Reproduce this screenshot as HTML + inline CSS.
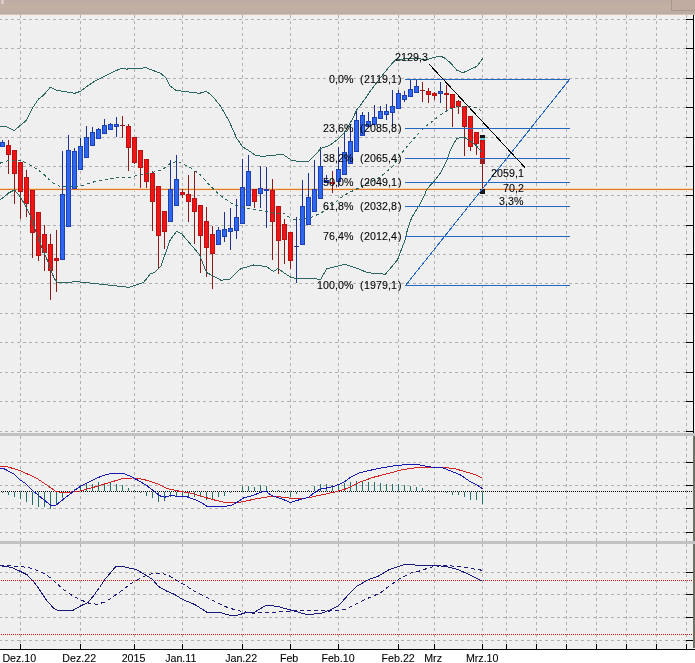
<!DOCTYPE html>
<html><head><meta charset="utf-8"><title>Chart</title>
<style>html,body{margin:0;padding:0;background:#efefef;overflow:hidden;}svg{display:block;}text{font-family:"Liberation Sans",Arial,sans-serif;font-size:10.67px;fill:#000;stroke:#000;stroke-width:0.08px;}text.g{font-size:10.67px;}</style></head><body>
<svg width="695" height="663" viewBox="0 0 695 663">
<defs><linearGradient id="tb" x1="0" y1="0" x2="0" y2="1"><stop offset="0" stop-color="#bcaaa3"/><stop offset="0.5" stop-color="#c4b0a4"/><stop offset="1" stop-color="#bcaba3"/></linearGradient></defs>
<rect x="0" y="0" width="695" height="663" fill="#efefef"/>
<g shape-rendering="crispEdges">
<rect x="0" y="0" width="695" height="14" fill="url(#tb)"/>
<rect x="0" y="14" width="695" height="1" fill="#d2c2bb"/>
<rect x="0" y="15" width="695" height="1" fill="#f6eeec"/>
<rect x="1" y="0" width="3" height="4" fill="#dccac2"/>
<rect x="671.5" y="-1" width="25" height="11.5" fill="#c0aca1" stroke="#a8968c" stroke-width="1"/>
</g>
<g stroke="#b0b0b0" stroke-width="1" shape-rendering="crispEdges" fill="none">
<line x1="0" y1="19.5" x2="693" y2="19.5" stroke-dasharray="3 3" stroke-dashoffset="1"/>
<line x1="0" y1="48.5" x2="693" y2="48.5" stroke-dasharray="3 3" stroke-dashoffset="1"/>
<line x1="0" y1="78.5" x2="693" y2="78.5" stroke-dasharray="3 3" stroke-dashoffset="1"/>
<line x1="0" y1="107.5" x2="693" y2="107.5" stroke-dasharray="3 3" stroke-dashoffset="1"/>
<line x1="0" y1="137.5" x2="693" y2="137.5" stroke-dasharray="3 3" stroke-dashoffset="1"/>
<line x1="0" y1="166.5" x2="693" y2="166.5" stroke-dasharray="3 3" stroke-dashoffset="1"/>
<line x1="0" y1="195.5" x2="693" y2="195.5" stroke-dasharray="3 3" stroke-dashoffset="1"/>
<line x1="0" y1="225.5" x2="693" y2="225.5" stroke-dasharray="3 3" stroke-dashoffset="1"/>
<line x1="0" y1="254.5" x2="693" y2="254.5" stroke-dasharray="3 3" stroke-dashoffset="1"/>
<line x1="0" y1="283.5" x2="693" y2="283.5" stroke-dasharray="3 3" stroke-dashoffset="1"/>
<line x1="0" y1="313.5" x2="693" y2="313.5" stroke-dasharray="3 3" stroke-dashoffset="1"/>
<line x1="0" y1="342.5" x2="693" y2="342.5" stroke-dasharray="3 3" stroke-dashoffset="1"/>
<line x1="0" y1="372.5" x2="693" y2="372.5" stroke-dasharray="3 3" stroke-dashoffset="1"/>
<line x1="0" y1="401.5" x2="693" y2="401.5" stroke-dasharray="3 3" stroke-dashoffset="1"/>
<line x1="0" y1="431.5" x2="693" y2="431.5" stroke-dasharray="3 3" stroke-dashoffset="1"/>
<line x1="0" y1="462.5" x2="693" y2="462.5" stroke-dasharray="3 3" stroke-dashoffset="1"/>
<line x1="0" y1="485.5" x2="693" y2="485.5" stroke-dasharray="3 3" stroke-dashoffset="1"/>
<line x1="0" y1="508.5" x2="693" y2="508.5" stroke-dasharray="3 3" stroke-dashoffset="1"/>
<line x1="0" y1="532.5" x2="693" y2="532.5" stroke-dasharray="3 3" stroke-dashoffset="1"/>
<line x1="0" y1="572.5" x2="693" y2="572.5" stroke-dasharray="3 3" stroke-dashoffset="1"/>
<line x1="0" y1="594.5" x2="693" y2="594.5" stroke-dasharray="3 3" stroke-dashoffset="1"/>
<line x1="0" y1="617.5" x2="693" y2="617.5" stroke-dasharray="3 3" stroke-dashoffset="1"/>
<line x1="0" y1="640.5" x2="693" y2="640.5" stroke-dasharray="3 3" stroke-dashoffset="1"/>
<line x1="20.5" y1="15" x2="20.5" y2="433" stroke-dasharray="3 3"/>
<line x1="20.5" y1="436" x2="20.5" y2="541" stroke-dasharray="3 3"/>
<line x1="20.5" y1="544" x2="20.5" y2="649" stroke-dasharray="3 3"/>
<line x1="80.5" y1="15" x2="80.5" y2="433" stroke-dasharray="3 3"/>
<line x1="80.5" y1="436" x2="80.5" y2="541" stroke-dasharray="3 3"/>
<line x1="80.5" y1="544" x2="80.5" y2="649" stroke-dasharray="3 3"/>
<line x1="134.5" y1="15" x2="134.5" y2="433" stroke-dasharray="3 3"/>
<line x1="134.5" y1="436" x2="134.5" y2="541" stroke-dasharray="3 3"/>
<line x1="134.5" y1="544" x2="134.5" y2="649" stroke-dasharray="3 3"/>
<line x1="182.5" y1="15" x2="182.5" y2="433" stroke-dasharray="3 3"/>
<line x1="182.5" y1="436" x2="182.5" y2="541" stroke-dasharray="3 3"/>
<line x1="182.5" y1="544" x2="182.5" y2="649" stroke-dasharray="3 3"/>
<line x1="242.5" y1="15" x2="242.5" y2="433" stroke-dasharray="3 3"/>
<line x1="242.5" y1="436" x2="242.5" y2="541" stroke-dasharray="3 3"/>
<line x1="242.5" y1="544" x2="242.5" y2="649" stroke-dasharray="3 3"/>
<line x1="290.5" y1="15" x2="290.5" y2="433" stroke-dasharray="3 3"/>
<line x1="290.5" y1="436" x2="290.5" y2="541" stroke-dasharray="3 3"/>
<line x1="290.5" y1="544" x2="290.5" y2="649" stroke-dasharray="3 3"/>
<line x1="338.5" y1="15" x2="338.5" y2="433" stroke-dasharray="3 3"/>
<line x1="338.5" y1="436" x2="338.5" y2="541" stroke-dasharray="3 3"/>
<line x1="338.5" y1="544" x2="338.5" y2="649" stroke-dasharray="3 3"/>
<line x1="398.5" y1="15" x2="398.5" y2="433" stroke-dasharray="3 3"/>
<line x1="398.5" y1="436" x2="398.5" y2="541" stroke-dasharray="3 3"/>
<line x1="398.5" y1="544" x2="398.5" y2="649" stroke-dasharray="3 3"/>
<line x1="434.5" y1="15" x2="434.5" y2="433" stroke-dasharray="3 3"/>
<line x1="434.5" y1="436" x2="434.5" y2="541" stroke-dasharray="3 3"/>
<line x1="434.5" y1="544" x2="434.5" y2="649" stroke-dasharray="3 3"/>
<line x1="482.5" y1="15" x2="482.5" y2="433" stroke-dasharray="3 3"/>
<line x1="482.5" y1="436" x2="482.5" y2="541" stroke-dasharray="3 3"/>
<line x1="482.5" y1="544" x2="482.5" y2="649" stroke-dasharray="3 3"/>
<line x1="506.5" y1="15" x2="506.5" y2="433" stroke-dasharray="3 3"/>
<line x1="506.5" y1="436" x2="506.5" y2="541" stroke-dasharray="3 3"/>
<line x1="506.5" y1="544" x2="506.5" y2="649" stroke-dasharray="3 3"/>
<line x1="536.5" y1="15" x2="536.5" y2="433" stroke-dasharray="3 3"/>
<line x1="536.5" y1="436" x2="536.5" y2="541" stroke-dasharray="3 3"/>
<line x1="536.5" y1="544" x2="536.5" y2="649" stroke-dasharray="3 3"/>
<line x1="566.5" y1="15" x2="566.5" y2="433" stroke-dasharray="3 3"/>
<line x1="566.5" y1="436" x2="566.5" y2="541" stroke-dasharray="3 3"/>
<line x1="566.5" y1="544" x2="566.5" y2="649" stroke-dasharray="3 3"/>
<line x1="596.5" y1="15" x2="596.5" y2="433" stroke-dasharray="3 3"/>
<line x1="596.5" y1="436" x2="596.5" y2="541" stroke-dasharray="3 3"/>
<line x1="596.5" y1="544" x2="596.5" y2="649" stroke-dasharray="3 3"/>
<line x1="626.5" y1="15" x2="626.5" y2="433" stroke-dasharray="3 3"/>
<line x1="626.5" y1="436" x2="626.5" y2="541" stroke-dasharray="3 3"/>
<line x1="626.5" y1="544" x2="626.5" y2="649" stroke-dasharray="3 3"/>
<line x1="656.5" y1="15" x2="656.5" y2="433" stroke-dasharray="3 3"/>
<line x1="656.5" y1="436" x2="656.5" y2="541" stroke-dasharray="3 3"/>
<line x1="656.5" y1="544" x2="656.5" y2="649" stroke-dasharray="3 3"/>
<line x1="686.5" y1="15" x2="686.5" y2="433" stroke-dasharray="3 3"/>
<line x1="686.5" y1="436" x2="686.5" y2="541" stroke-dasharray="3 3"/>
<line x1="686.5" y1="544" x2="686.5" y2="649" stroke-dasharray="3 3"/>
</g>
<g shape-rendering="crispEdges">
<rect x="0" y="433" width="695" height="3" fill="#c2c2c2"/>
<rect x="0" y="541" width="695" height="3" fill="#c2c2c2"/>
<rect x="0" y="650" width="695" height="13" fill="#ffffff"/>
<rect x="0" y="649" width="695" height="1" fill="#000"/>
<rect x="20" y="644" width="1" height="5" fill="#000"/>
<rect x="80" y="644" width="1" height="5" fill="#000"/>
<rect x="134" y="644" width="1" height="5" fill="#000"/>
<rect x="182" y="644" width="1" height="5" fill="#000"/>
<rect x="242" y="644" width="1" height="5" fill="#000"/>
<rect x="290" y="644" width="1" height="5" fill="#000"/>
<rect x="338" y="644" width="1" height="5" fill="#000"/>
<rect x="398" y="644" width="1" height="5" fill="#000"/>
<rect x="434" y="644" width="1" height="5" fill="#000"/>
<rect x="482" y="644" width="1" height="5" fill="#000"/>
<rect x="506" y="644" width="1" height="5" fill="#000"/>
<rect x="536" y="644" width="1" height="5" fill="#000"/>
<rect x="566" y="644" width="1" height="5" fill="#000"/>
<rect x="596" y="644" width="1" height="5" fill="#000"/>
<rect x="626" y="644" width="1" height="5" fill="#000"/>
<rect x="656" y="644" width="1" height="5" fill="#000"/>
<rect x="686" y="644" width="1" height="5" fill="#000"/>
<rect x="693" y="15" width="1" height="418" fill="#000"/>
<rect x="693" y="436" width="2" height="105" fill="#6f6f62"/>
<rect x="693" y="544" width="2" height="104" fill="#6f6f62"/>
<rect x="686" y="19" width="7" height="1" fill="#000"/>
<rect x="686" y="48" width="7" height="1" fill="#000"/>
<rect x="686" y="78" width="7" height="1" fill="#000"/>
<rect x="686" y="107" width="7" height="1" fill="#000"/>
<rect x="686" y="137" width="7" height="1" fill="#000"/>
<rect x="686" y="166" width="7" height="1" fill="#000"/>
<rect x="686" y="195" width="7" height="1" fill="#000"/>
<rect x="686" y="225" width="7" height="1" fill="#000"/>
<rect x="686" y="254" width="7" height="1" fill="#000"/>
<rect x="686" y="283" width="7" height="1" fill="#000"/>
<rect x="686" y="313" width="7" height="1" fill="#000"/>
<rect x="686" y="342" width="7" height="1" fill="#000"/>
<rect x="686" y="372" width="7" height="1" fill="#000"/>
<rect x="686" y="401" width="7" height="1" fill="#000"/>
<rect x="686" y="431" width="7" height="1" fill="#000"/>
<rect x="686" y="462" width="7" height="1" fill="#000"/>
<rect x="686" y="485" width="7" height="1" fill="#000"/>
<rect x="686" y="508" width="7" height="1" fill="#000"/>
<rect x="686" y="532" width="7" height="1" fill="#000"/>
<rect x="686" y="572" width="7" height="1" fill="#000"/>
<rect x="686" y="594" width="7" height="1" fill="#000"/>
<rect x="686" y="617" width="7" height="1" fill="#000"/>
<rect x="686" y="640" width="7" height="1" fill="#000"/>
</g>
<g shape-rendering="crispEdges">
<rect x="0" y="188" width="693" height="1" fill="#f8d6b4"/>
<rect x="0" y="189" width="693" height="1" fill="#dc7a2e"/>
<rect x="0" y="190" width="693" height="1" fill="#f5eadf"/>
</g>
<g shape-rendering="crispEdges">
<rect x="2" y="140" width="1" height="7" fill="#22318e"/>
<rect x="0.5" y="142.5" width="4" height="4" fill="#2d67ef" stroke="#1f40b4" stroke-width="1"/>
<rect x="8" y="140" width="1" height="34" fill="#8c1a1a"/>
<rect x="6.5" y="145.5" width="4" height="9" fill="#f01414" stroke="#b81212" stroke-width="1"/>
<rect x="14" y="150" width="1" height="54" fill="#8c1a1a"/>
<rect x="12.5" y="150.5" width="4" height="23" fill="#f01414" stroke="#b81212" stroke-width="1"/>
<rect x="20" y="162" width="1" height="57" fill="#8c1a1a"/>
<rect x="18.5" y="162.5" width="4" height="29" fill="#f01414" stroke="#b81212" stroke-width="1"/>
<rect x="26" y="170" width="1" height="47" fill="#8c1a1a"/>
<rect x="24.5" y="177.5" width="4" height="26" fill="#f01414" stroke="#b81212" stroke-width="1"/>
<rect x="32" y="190" width="1" height="68" fill="#8c1a1a"/>
<rect x="30.5" y="190.5" width="4" height="42" fill="#f01414" stroke="#b81212" stroke-width="1"/>
<rect x="38" y="212" width="1" height="49" fill="#8c1a1a"/>
<rect x="36.5" y="212.5" width="4" height="43" fill="#f01414" stroke="#b81212" stroke-width="1"/>
<rect x="44" y="225" width="1" height="46" fill="#8c1a1a"/>
<rect x="42.5" y="234.5" width="4" height="18" fill="#f01414" stroke="#b81212" stroke-width="1"/>
<rect x="50" y="234" width="1" height="66" fill="#8c1a1a"/>
<rect x="48.5" y="244.5" width="4" height="26" fill="#f01414" stroke="#b81212" stroke-width="1"/>
<rect x="56" y="230" width="1" height="62" fill="#8c1a1a"/>
<rect x="54.5" y="258.5" width="4" height="2" fill="#f01414" stroke="#b81212" stroke-width="1"/>
<rect x="62" y="151" width="1" height="109" fill="#22318e"/>
<rect x="60.5" y="194.5" width="4" height="65" fill="#2d67ef" stroke="#1f40b4" stroke-width="1"/>
<rect x="68" y="135" width="1" height="92" fill="#22318e"/>
<rect x="66.5" y="150.5" width="4" height="76" fill="#2d67ef" stroke="#1f40b4" stroke-width="1"/>
<rect x="74" y="148" width="1" height="41" fill="#22318e"/>
<rect x="72.5" y="151.5" width="4" height="37" fill="#2d67ef" stroke="#1f40b4" stroke-width="1"/>
<rect x="80" y="138" width="1" height="32" fill="#22318e"/>
<rect x="78.5" y="146.5" width="4" height="23" fill="#2d67ef" stroke="#1f40b4" stroke-width="1"/>
<rect x="86" y="126" width="1" height="32" fill="#22318e"/>
<rect x="84.5" y="137.5" width="4" height="20" fill="#2d67ef" stroke="#1f40b4" stroke-width="1"/>
<rect x="92" y="127" width="1" height="19" fill="#22318e"/>
<rect x="90.5" y="132.5" width="4" height="13" fill="#2d67ef" stroke="#1f40b4" stroke-width="1"/>
<rect x="98" y="128" width="1" height="11" fill="#22318e"/>
<rect x="96.5" y="129.5" width="4" height="9" fill="#2d67ef" stroke="#1f40b4" stroke-width="1"/>
<rect x="104" y="119" width="1" height="15" fill="#22318e"/>
<rect x="102.5" y="125.5" width="4" height="8" fill="#2d67ef" stroke="#1f40b4" stroke-width="1"/>
<rect x="110" y="123" width="1" height="7" fill="#22318e"/>
<rect x="108.5" y="124.5" width="4" height="5" fill="#2d67ef" stroke="#1f40b4" stroke-width="1"/>
<rect x="116" y="117" width="1" height="20" fill="#22318e"/>
<rect x="114.5" y="124.5" width="4" height="2" fill="#2d67ef" stroke="#1f40b4" stroke-width="1"/>
<rect x="122" y="116" width="1" height="22" fill="#8c1a1a"/>
<rect x="120" y="125" width="5" height="1" fill="#8c1a1a"/>
<rect x="128" y="124" width="1" height="47" fill="#8c1a1a"/>
<rect x="126.5" y="126.5" width="4" height="21" fill="#f01414" stroke="#b81212" stroke-width="1"/>
<rect x="134" y="137" width="1" height="27" fill="#8c1a1a"/>
<rect x="132.5" y="137.5" width="4" height="25" fill="#f01414" stroke="#b81212" stroke-width="1"/>
<rect x="140" y="150" width="1" height="38" fill="#8c1a1a"/>
<rect x="138.5" y="150.5" width="4" height="17" fill="#f01414" stroke="#b81212" stroke-width="1"/>
<rect x="146" y="159" width="1" height="29" fill="#8c1a1a"/>
<rect x="144.5" y="159.5" width="4" height="22" fill="#f01414" stroke="#b81212" stroke-width="1"/>
<rect x="152" y="171" width="1" height="60" fill="#8c1a1a"/>
<rect x="150.5" y="173.5" width="4" height="28" fill="#f01414" stroke="#b81212" stroke-width="1"/>
<rect x="158" y="186" width="1" height="82" fill="#8c1a1a"/>
<rect x="156.5" y="186.5" width="4" height="49" fill="#f01414" stroke="#b81212" stroke-width="1"/>
<rect x="164" y="211" width="1" height="38" fill="#8c1a1a"/>
<rect x="162.5" y="211.5" width="4" height="20" fill="#f01414" stroke="#b81212" stroke-width="1"/>
<rect x="170" y="160" width="1" height="62" fill="#22318e"/>
<rect x="168.5" y="189.5" width="4" height="32" fill="#2d67ef" stroke="#1f40b4" stroke-width="1"/>
<rect x="176" y="155" width="1" height="51" fill="#22318e"/>
<rect x="174.5" y="179.5" width="4" height="26" fill="#2d67ef" stroke="#1f40b4" stroke-width="1"/>
<rect x="182" y="189" width="1" height="9" fill="#8c1a1a"/>
<rect x="180.5" y="192.5" width="4" height="2" fill="#f01414" stroke="#b81212" stroke-width="1"/>
<rect x="188" y="175" width="1" height="47" fill="#8c1a1a"/>
<rect x="186.5" y="194.5" width="4" height="7" fill="#f01414" stroke="#b81212" stroke-width="1"/>
<rect x="194" y="171" width="1" height="73" fill="#8c1a1a"/>
<rect x="192.5" y="198.5" width="4" height="13" fill="#f01414" stroke="#b81212" stroke-width="1"/>
<rect x="200" y="205" width="1" height="68" fill="#8c1a1a"/>
<rect x="198.5" y="205.5" width="4" height="30" fill="#f01414" stroke="#b81212" stroke-width="1"/>
<rect x="206" y="207" width="1" height="70" fill="#8c1a1a"/>
<rect x="204.5" y="221.5" width="4" height="26" fill="#f01414" stroke="#b81212" stroke-width="1"/>
<rect x="212" y="226" width="1" height="63" fill="#8c1a1a"/>
<rect x="210.5" y="234.5" width="4" height="19" fill="#f01414" stroke="#b81212" stroke-width="1"/>
<rect x="218" y="227" width="1" height="18" fill="#22318e"/>
<rect x="216.5" y="230.5" width="4" height="14" fill="#2d67ef" stroke="#1f40b4" stroke-width="1"/>
<rect x="224" y="212" width="1" height="30" fill="#22318e"/>
<rect x="222.5" y="229.5" width="4" height="7" fill="#2d67ef" stroke="#1f40b4" stroke-width="1"/>
<rect x="230" y="208" width="1" height="42" fill="#22318e"/>
<rect x="228.5" y="228.5" width="4" height="3" fill="#2d67ef" stroke="#1f40b4" stroke-width="1"/>
<rect x="236" y="199" width="1" height="40" fill="#22318e"/>
<rect x="234.5" y="217.5" width="4" height="13" fill="#2d67ef" stroke="#1f40b4" stroke-width="1"/>
<rect x="242" y="159" width="1" height="65" fill="#22318e"/>
<rect x="240.5" y="187.5" width="4" height="36" fill="#2d67ef" stroke="#1f40b4" stroke-width="1"/>
<rect x="248" y="155" width="1" height="51" fill="#22318e"/>
<rect x="246.5" y="171.5" width="4" height="34" fill="#2d67ef" stroke="#1f40b4" stroke-width="1"/>
<rect x="254" y="189" width="1" height="19" fill="#8c1a1a"/>
<rect x="252.5" y="189.5" width="4" height="12" fill="#f01414" stroke="#b81212" stroke-width="1"/>
<rect x="260" y="166" width="1" height="42" fill="#22318e"/>
<rect x="258.5" y="188.5" width="4" height="5" fill="#2d67ef" stroke="#1f40b4" stroke-width="1"/>
<rect x="266" y="167" width="1" height="61" fill="#22318e"/>
<rect x="264" y="189" width="5" height="2" fill="#1f40b4"/>
<rect x="272" y="179" width="1" height="81" fill="#8c1a1a"/>
<rect x="270.5" y="190.5" width="4" height="31" fill="#f01414" stroke="#b81212" stroke-width="1"/>
<rect x="278" y="206" width="1" height="68" fill="#8c1a1a"/>
<rect x="276.5" y="206.5" width="4" height="34" fill="#f01414" stroke="#b81212" stroke-width="1"/>
<rect x="284" y="219" width="1" height="45" fill="#8c1a1a"/>
<rect x="282.5" y="224.5" width="4" height="15" fill="#f01414" stroke="#b81212" stroke-width="1"/>
<rect x="290" y="232" width="1" height="37" fill="#8c1a1a"/>
<rect x="288.5" y="232.5" width="4" height="28" fill="#f01414" stroke="#b81212" stroke-width="1"/>
<rect x="296" y="217" width="1" height="66" fill="#22318e"/>
<rect x="294" y="246" width="5" height="1" fill="#22318e"/>
<rect x="302" y="180" width="1" height="65" fill="#22318e"/>
<rect x="300.5" y="206.5" width="4" height="38" fill="#2d67ef" stroke="#1f40b4" stroke-width="1"/>
<rect x="308" y="173" width="1" height="52" fill="#22318e"/>
<rect x="306.5" y="197.5" width="4" height="27" fill="#2d67ef" stroke="#1f40b4" stroke-width="1"/>
<rect x="314" y="160" width="1" height="52" fill="#22318e"/>
<rect x="312.5" y="189.5" width="4" height="22" fill="#2d67ef" stroke="#1f40b4" stroke-width="1"/>
<rect x="320" y="147" width="1" height="52" fill="#22318e"/>
<rect x="318.5" y="166.5" width="4" height="32" fill="#2d67ef" stroke="#1f40b4" stroke-width="1"/>
<rect x="326" y="175" width="1" height="8" fill="#22318e"/>
<rect x="324.5" y="180.5" width="4" height="2" fill="#2d67ef" stroke="#1f40b4" stroke-width="1"/>
<rect x="332" y="171" width="1" height="22" fill="#8c1a1a"/>
<rect x="330" y="182" width="5" height="2" fill="#b81212"/>
<rect x="338" y="147" width="1" height="40" fill="#22318e"/>
<rect x="336.5" y="169.5" width="4" height="12" fill="#2d67ef" stroke="#1f40b4" stroke-width="1"/>
<rect x="344" y="132" width="1" height="43" fill="#22318e"/>
<rect x="342.5" y="152.5" width="4" height="22" fill="#2d67ef" stroke="#1f40b4" stroke-width="1"/>
<rect x="350" y="124" width="1" height="40" fill="#22318e"/>
<rect x="348.5" y="141.5" width="4" height="22" fill="#2d67ef" stroke="#1f40b4" stroke-width="1"/>
<rect x="356" y="110" width="1" height="42" fill="#22318e"/>
<rect x="354.5" y="120.5" width="4" height="31" fill="#2d67ef" stroke="#1f40b4" stroke-width="1"/>
<rect x="362" y="112" width="1" height="24" fill="#22318e"/>
<rect x="360.5" y="115.5" width="4" height="20" fill="#2d67ef" stroke="#1f40b4" stroke-width="1"/>
<rect x="368" y="112" width="1" height="15" fill="#22318e"/>
<rect x="366.5" y="121.5" width="4" height="5" fill="#2d67ef" stroke="#1f40b4" stroke-width="1"/>
<rect x="374" y="105" width="1" height="20" fill="#22318e"/>
<rect x="372.5" y="117.5" width="4" height="7" fill="#2d67ef" stroke="#1f40b4" stroke-width="1"/>
<rect x="380" y="106" width="1" height="13" fill="#22318e"/>
<rect x="378.5" y="111.5" width="4" height="7" fill="#2d67ef" stroke="#1f40b4" stroke-width="1"/>
<rect x="386" y="104" width="1" height="16" fill="#22318e"/>
<rect x="384.5" y="111.5" width="4" height="3" fill="#2d67ef" stroke="#1f40b4" stroke-width="1"/>
<rect x="392" y="90" width="1" height="36" fill="#22318e"/>
<rect x="390.5" y="106.5" width="4" height="6" fill="#2d67ef" stroke="#1f40b4" stroke-width="1"/>
<rect x="398" y="90" width="1" height="19" fill="#22318e"/>
<rect x="396.5" y="93.5" width="4" height="15" fill="#2d67ef" stroke="#1f40b4" stroke-width="1"/>
<rect x="404" y="91" width="1" height="11" fill="#22318e"/>
<rect x="402.5" y="95.5" width="4" height="4" fill="#2d67ef" stroke="#1f40b4" stroke-width="1"/>
<rect x="410" y="79" width="1" height="18" fill="#22318e"/>
<rect x="408.5" y="89.5" width="4" height="7" fill="#2d67ef" stroke="#1f40b4" stroke-width="1"/>
<rect x="416" y="79" width="1" height="14" fill="#22318e"/>
<rect x="414.5" y="86.5" width="4" height="6" fill="#2d67ef" stroke="#1f40b4" stroke-width="1"/>
<rect x="422" y="82" width="1" height="20" fill="#8c1a1a"/>
<rect x="420" y="90" width="5" height="1" fill="#8c1a1a"/>
<rect x="428" y="88" width="1" height="15" fill="#8c1a1a"/>
<rect x="426.5" y="91.5" width="4" height="3" fill="#f01414" stroke="#b81212" stroke-width="1"/>
<rect x="434" y="92" width="1" height="8" fill="#8c1a1a"/>
<rect x="432.5" y="93.5" width="4" height="2" fill="#f01414" stroke="#b81212" stroke-width="1"/>
<rect x="440" y="82" width="1" height="21" fill="#22318e"/>
<rect x="438.5" y="91.5" width="4" height="2" fill="#2d67ef" stroke="#1f40b4" stroke-width="1"/>
<rect x="446" y="85" width="1" height="27" fill="#8c1a1a"/>
<rect x="444" y="93" width="5" height="2" fill="#b81212"/>
<rect x="452" y="94" width="1" height="33" fill="#8c1a1a"/>
<rect x="450.5" y="94.5" width="4" height="13" fill="#f01414" stroke="#b81212" stroke-width="1"/>
<rect x="458" y="100" width="1" height="14" fill="#8c1a1a"/>
<rect x="456.5" y="101.5" width="4" height="5" fill="#f01414" stroke="#b81212" stroke-width="1"/>
<rect x="464" y="106" width="1" height="50" fill="#8c1a1a"/>
<rect x="462.5" y="106.5" width="4" height="20" fill="#f01414" stroke="#b81212" stroke-width="1"/>
<rect x="470" y="116" width="1" height="35" fill="#8c1a1a"/>
<rect x="468.5" y="116.5" width="4" height="30" fill="#f01414" stroke="#b81212" stroke-width="1"/>
<rect x="476" y="132" width="1" height="23" fill="#8c1a1a"/>
<rect x="474.5" y="132.5" width="4" height="11" fill="#f01414" stroke="#b81212" stroke-width="1"/>
<rect x="482" y="137" width="1" height="53" fill="#8c1a1a"/>
<rect x="480.5" y="140.5" width="4" height="23" fill="#f01414" stroke="#b81212" stroke-width="1"/>
</g>
<g fill="none" stroke="#2a665f" stroke-width="1" shape-rendering="crispEdges">
<polyline points="0.0,126.1 6.0,126.5 14.1,130.6 20.2,125.5 26.2,120.5 32.3,108.4 38.3,99.3 43.3,95.3 50.4,87.2 56.5,90.2 66.5,91.9 74.6,93.3 80.6,91.3 88.7,85.2 94.8,81.2 104.8,76.1 114.9,71.1 121.0,68.5 127.0,69.1 133.1,68.1 138.1,68.5 146.1,67.7 153.2,70.5 160.2,73.1 165.3,77.1 170.3,86.2 176.4,90.6 184.4,91.3 190.5,92.3 199.6,93.3 206.2,91.3 212.7,96.3 220.7,106.4 228.8,120.5 236.9,138.6 242.9,147.1 248.7,150.6 255.6,155.5 263.1,156.4 269.3,155.5 283.0,154.5 291.8,160.4 299.4,161.5 308.7,161.5 316.2,154.0 320.9,148.4 329.3,145.6 336.8,140.0 344.0,133.3 352.8,118.6 356.5,110.0 360.0,105.9 370.2,91.4 382.3,75.3 390.0,65.9 395.8,59.4 412.0,58.5 428.1,59.4 433.2,57.6 440.7,56.1 444.8,58.1 450.8,63.2 456.9,70.2 462.9,72.7 471.0,69.2 477.0,66.2 483.1,58.1"/>
<polyline points="0.0,199.9 3.6,197.2 9.0,192.7 14.5,190.0 19.9,196.3 25.3,205.3 30.8,216.2 36.2,232.5 41.6,247.0 47.1,259.6 51.6,272.3 54.3,278.6 57.9,282.8 70.0,282.8 74.0,281.4 90.0,283.0 114.0,285.7 128.7,287.3 143.4,282.7 150.3,273.9 155.2,272.0 161.0,266.0 169.9,240.6 176.7,231.2 181.8,234.0 199.5,254.7 206.4,272.4 221.0,280.2 229.9,279.2 239.7,269.4 241.8,268.4 253.6,265.0 265.4,266.5 267.9,267.5 273.5,271.6 278.0,268.4 283.6,272.7 291.4,277.6 297.3,278.6 313.6,278.6 320.6,279.5 326.6,268.9 344.7,264.4 358.7,268.8 367.3,272.7 385.4,274.2 397.5,259.9 405.0,240.0 407.5,229.5 411.6,217.9 416.6,209.6 420.7,203.0 424.0,196.3 426.5,189.7 430.7,184.7 434.8,180.6 439.8,173.9 443.9,166.5 447.3,159.0 449.8,151.6 453.1,144.9 456.4,139.1 459.7,137.5 463.8,137.0 468.0,139.5 476.0,145.3 481.4,151.8"/>
<polyline points="0.0,163.2 4.8,161.4 10.9,160.2 18.1,160.2 24.1,162.0 30.2,165.0 36.2,168.6 42.2,172.8 47.0,177.6 53.1,183.0 59.1,186.1 65.1,186.5 79.5,186.3 86.5,184.3 93.5,182.0 100.5,180.5 106.0,179.5 113.5,178.0 118.0,177.5 129.7,177.6 139.5,174.7 149.3,172.7 155.2,171.8 163.0,169.3 170.0,163.5 177.0,161.3 183.0,163.8 190.0,167.5 199.5,174.1 209.3,184.9 219.1,194.7 230.9,202.9 236.7,205.5 248.0,208.5 258.0,210.0 268.0,211.5 273.0,213.0 283.6,213.0 291.4,218.8 296.3,219.8 307.1,218.8 314.3,216.0 320.0,213.5 327.4,209.2 340.5,198.0 346.1,194.2 357.3,188.6 368.6,183.0 379.8,177.4 392.9,166.2 400.4,155.0 404.0,150.0 409.7,143.7 413.4,138.9 419.9,132.4 426.3,125.9 435.0,119.5 437.6,116.5 445.0,112.0 450.6,108.6 458.0,106.5 470.0,106.2 475.4,107.2 481.4,110.6" stroke-dasharray="3 3"/>
</g>
<g shape-rendering="crispEdges">
<rect x="480" y="135" width="5" height="3" fill="#111"/>
<rect x="480" y="138" width="5" height="2" fill="#5fc8d8"/>
<rect x="480" y="158" width="5" height="6" fill="#a01a22"/>
<rect x="480" y="189" width="5" height="5" fill="#111"/>
</g>
<g stroke="#2466c0" stroke-width="1" fill="none" shape-rendering="crispEdges">
<line x1="405" y1="79.5" x2="570" y2="79.5"/>
<line x1="405" y1="128.5" x2="570" y2="128.5"/>
<line x1="405" y1="158.5" x2="570" y2="158.5"/>
<line x1="405" y1="182.5" x2="570" y2="182.5"/>
<line x1="405" y1="206.5" x2="570" y2="206.5"/>
<line x1="405" y1="236.5" x2="570" y2="236.5"/>
<line x1="405" y1="285.5" x2="570" y2="285.5"/>
<line x1="405.5" y1="285.5" x2="569.5" y2="79.5"/>
</g>
<line x1="429" y1="64" x2="525" y2="167.6" stroke="#000" stroke-width="1" shape-rendering="crispEdges"/>
<g>
<text class="g" x="329 335 338 344" y="82.7">0,0%</text>
<text class="g" x="360 364 370 376 382 388 391 398" y="82.7">(2119,1)</text>
<text class="g" x="323 329 335 338 344" y="131.7">23,6%</text>
<text class="g" x="360 364 370 376 382 388 391 398" y="131.7">(2085,8)</text>
<text class="g" x="323 329 335 338 344" y="161.7">38,2%</text>
<text class="g" x="360 364 370 376 382 388 391 398" y="161.7">(2065,4)</text>
<text class="g" x="323 329 335 338 344" y="185.7">50,0%</text>
<text class="g" x="360 364 370 376 382 388 391 398" y="185.7">(2049,1)</text>
<text class="g" x="323 329 335 338 344" y="209.7">61,8%</text>
<text class="g" x="360 364 370 376 382 388 391 398" y="209.7">(2032,8)</text>
<text class="g" x="323 329 335 338 344" y="239.7">76,4%</text>
<text class="g" x="360 364 370 376 382 388 391 398" y="239.7">(2012,4)</text>
<text class="g" x="317 323 329 335 338 344" y="288.7">100,0%</text>
<text class="g" x="360 364 370 376 382 388 391 398" y="288.7">(1979,1)</text>
<text class="g" x="395 401 407 413 419 422" y="60.5">2129,3</text>
<text class="g" x="491 497 503 509 515 518" y="177.4">2059,1</text>
<text class="g" x="503 509 515 518" y="191.5">70,2</text>
<text class="g" x="499 505 508 514" y="205.4">3,3%</text>
</g>
<g shape-rendering="crispEdges">
<rect x="2" y="492" width="1" height="1" fill="#21736a"/>
<rect x="8" y="492" width="1" height="3" fill="#21736a"/>
<rect x="14" y="492" width="1" height="5" fill="#21736a"/>
<rect x="20" y="492" width="1" height="7" fill="#21736a"/>
<rect x="26" y="492" width="1" height="10" fill="#21736a"/>
<rect x="32" y="492" width="1" height="13" fill="#21736a"/>
<rect x="38" y="492" width="1" height="15" fill="#21736a"/>
<rect x="44" y="492" width="1" height="15" fill="#21736a"/>
<rect x="50" y="492" width="1" height="17" fill="#21736a"/>
<rect x="56" y="492" width="1" height="12" fill="#21736a"/>
<rect x="62" y="492" width="1" height="6" fill="#21736a"/>
<rect x="74" y="489" width="1" height="2" fill="#21736a"/>
<rect x="80" y="485" width="1" height="6" fill="#21736a"/>
<rect x="86" y="484" width="1" height="7" fill="#21736a"/>
<rect x="92" y="484" width="1" height="7" fill="#21736a"/>
<rect x="98" y="482" width="1" height="9" fill="#21736a"/>
<rect x="104" y="483" width="1" height="8" fill="#21736a"/>
<rect x="110" y="483" width="1" height="8" fill="#21736a"/>
<rect x="116" y="484" width="1" height="7" fill="#21736a"/>
<rect x="122" y="485" width="1" height="6" fill="#21736a"/>
<rect x="128" y="488" width="1" height="3" fill="#21736a"/>
<rect x="134" y="490" width="1" height="1" fill="#21736a"/>
<rect x="140" y="492" width="1" height="1" fill="#21736a"/>
<rect x="146" y="492" width="1" height="4" fill="#21736a"/>
<rect x="152" y="492" width="1" height="6" fill="#21736a"/>
<rect x="158" y="492" width="1" height="10" fill="#21736a"/>
<rect x="164" y="492" width="1" height="9" fill="#21736a"/>
<rect x="170" y="492" width="1" height="5" fill="#21736a"/>
<rect x="176" y="492" width="1" height="5" fill="#21736a"/>
<rect x="182" y="492" width="1" height="5" fill="#21736a"/>
<rect x="188" y="492" width="1" height="5" fill="#21736a"/>
<rect x="194" y="492" width="1" height="5" fill="#21736a"/>
<rect x="200" y="492" width="1" height="5" fill="#21736a"/>
<rect x="206" y="492" width="1" height="8" fill="#21736a"/>
<rect x="212" y="492" width="1" height="7" fill="#21736a"/>
<rect x="218" y="492" width="1" height="5" fill="#21736a"/>
<rect x="224" y="492" width="1" height="4" fill="#21736a"/>
<rect x="230" y="492" width="1" height="1" fill="#21736a"/>
<rect x="242" y="486" width="1" height="5" fill="#21736a"/>
<rect x="248" y="486" width="1" height="5" fill="#21736a"/>
<rect x="254" y="487" width="1" height="4" fill="#21736a"/>
<rect x="260" y="485" width="1" height="6" fill="#21736a"/>
<rect x="266" y="486" width="1" height="5" fill="#21736a"/>
<rect x="272" y="490" width="1" height="1" fill="#21736a"/>
<rect x="278" y="490" width="1" height="1" fill="#21736a"/>
<rect x="284" y="492" width="1" height="1" fill="#21736a"/>
<rect x="290" y="492" width="1" height="5" fill="#21736a"/>
<rect x="296" y="492" width="1" height="2" fill="#21736a"/>
<rect x="308" y="490" width="1" height="1" fill="#21736a"/>
<rect x="314" y="486" width="1" height="5" fill="#21736a"/>
<rect x="320" y="484" width="1" height="7" fill="#21736a"/>
<rect x="326" y="484" width="1" height="7" fill="#21736a"/>
<rect x="332" y="485" width="1" height="6" fill="#21736a"/>
<rect x="338" y="484" width="1" height="7" fill="#21736a"/>
<rect x="344" y="483" width="1" height="8" fill="#21736a"/>
<rect x="350" y="482" width="1" height="9" fill="#21736a"/>
<rect x="356" y="481" width="1" height="10" fill="#21736a"/>
<rect x="362" y="481" width="1" height="10" fill="#21736a"/>
<rect x="368" y="482" width="1" height="9" fill="#21736a"/>
<rect x="374" y="482" width="1" height="9" fill="#21736a"/>
<rect x="380" y="483" width="1" height="8" fill="#21736a"/>
<rect x="386" y="484" width="1" height="7" fill="#21736a"/>
<rect x="392" y="484" width="1" height="7" fill="#21736a"/>
<rect x="398" y="484" width="1" height="7" fill="#21736a"/>
<rect x="404" y="485" width="1" height="6" fill="#21736a"/>
<rect x="410" y="486" width="1" height="5" fill="#21736a"/>
<rect x="416" y="487" width="1" height="4" fill="#21736a"/>
<rect x="422" y="488" width="1" height="3" fill="#21736a"/>
<rect x="428" y="490" width="1" height="1" fill="#21736a"/>
<rect x="446" y="492" width="1" height="1" fill="#21736a"/>
<rect x="452" y="492" width="1" height="3" fill="#21736a"/>
<rect x="458" y="492" width="1" height="3" fill="#21736a"/>
<rect x="464" y="492" width="1" height="5" fill="#21736a"/>
<rect x="470" y="492" width="1" height="8" fill="#21736a"/>
<rect x="476" y="492" width="1" height="8" fill="#21736a"/>
<rect x="482" y="492" width="1" height="12" fill="#21736a"/>
</g>
<g shape-rendering="crispEdges">
<line x1="1" y1="491.5" x2="693" y2="491.5" stroke="#000" stroke-width="1" stroke-dasharray="1 1"/>
<line x1="1" y1="580.5" x2="693" y2="580.5" stroke="#d81414" stroke-width="1" stroke-dasharray="1 1"/>
<line x1="1" y1="634.5" x2="693" y2="634.5" stroke="#d81414" stroke-width="1" stroke-dasharray="1 1"/>
</g>
<g fill="none" stroke-width="1" shape-rendering="crispEdges">
<polyline points="0.0,466.3 6.0,466.5 10.9,467.8 21.7,471.3 36.2,478.0 47.0,485.2 56.0,491.5 65.2,493.0 70.4,492.1 79.0,491.3 94.5,487.0 111.8,481.8 122.2,478.7 132.5,478.0 142.9,479.2 156.7,483.5 167.1,488.7 180.0,491.3 190.4,493.0 202.5,496.5 212.8,499.6 223.2,502.0 231.8,502.5 238.7,502.5 249.1,500.3 259.4,498.2 268.1,496.8 276.7,496.5 287.1,497.8 299.2,499.0 310.4,497.3 322.5,494.7 334.5,492.1 346.6,488.7 358.7,482.6 372.5,477.5 386.4,474.0 400.2,470.2 410.4,468.5 420.7,467.1 434.5,467.1 444.9,467.4 455.3,468.8 465.6,471.8 476.0,474.9 482.6,478.3" stroke="#d42222"/>
<polyline points="0.0,468.0 3.0,468.2 14.5,474.3 20.0,480.0 25.8,483.5 31.5,489.8 37.3,494.4 44.2,500.1 50.5,505.0 56.3,505.0 60.0,501.9 66.9,496.5 74.7,490.4 80.7,486.1 87.6,482.6 96.3,478.3 104.9,474.9 113.5,473.1 122.2,473.1 129.1,475.7 136.0,479.2 146.4,485.2 154.1,491.3 159.3,495.6 164.5,497.3 170.5,495.6 180.0,496.5 186.9,496.8 195.5,499.9 202.5,503.4 206.8,506.3 225.8,506.3 231.8,505.1 238.7,501.3 243.9,497.8 252.5,495.6 261.2,492.1 266.4,491.6 271.5,495.6 276.7,497.3 283.6,499.6 290.5,502.5 297.4,500.3 308.6,497.3 313.8,493.0 319.9,489.2 327.6,487.8 334.5,486.1 343.2,482.6 350.1,477.5 358.7,473.1 369.1,470.5 381.2,468.0 395.0,465.7 406.9,464.5 417.3,464.5 427.6,466.6 434.5,467.4 443.2,468.0 451.8,471.4 460.4,474.9 469.1,480.9 476.0,484.4 482.6,488.7" stroke="#1818b4"/>
<polyline points="0.0,565.4 10.9,565.8 21.7,566.7 32.6,568.5 45.2,573.9 54.3,581.2 63.3,589.3 72.4,595.6 81.4,600.2 90.5,603.8 97.7,604.1 105.0,602.0 112.2,597.4 122.1,590.4 134.2,581.3 146.3,575.2 154.4,573.2 166.5,574.2 178.5,581.3 194.7,591.4 210.8,599.4 224.9,606.5 237.0,610.5 252.1,613.1 270.2,612.5 296.5,610.5 316.6,610.5 328.7,611.1 344.8,609.5 356.9,603.5 369.0,597.8 380.1,593.0 390.2,585.3 400.2,578.3 410.3,573.2 420.4,570.8 430.5,567.2 440.6,565.8 450.6,565.8 462.7,567.2 474.8,569.2 481.9,570.2" stroke="#1a1a7a" stroke-dasharray="4 3"/>
<polyline points="0.0,565.8 10.9,567.2 18.1,570.3 27.1,574.8 33.5,581.2 39.8,590.2 47.1,601.1 54.3,608.8 59.7,611.0 72.4,610.7 79.6,606.5 86.9,602.9 92.3,597.4 99.5,587.5 105.0,579.3 110.4,573.0 116.0,566.2 122.1,566.2 130.2,568.2 136.2,569.6 144.3,574.2 152.3,579.3 158.4,586.3 166.5,591.0 174.5,594.4 182.6,599.4 194.7,604.5 206.8,612.1 218.9,612.1 226.9,614.6 235.0,616.0 243.1,613.5 246.0,612.5 254.1,612.5 266.2,605.1 278.3,606.5 288.4,609.5 296.5,611.5 306.5,614.6 320.6,613.5 328.7,610.5 338.8,605.5 346.9,596.4 356.9,586.3 367.0,580.3 373.1,577.9 378.1,576.3 388.1,570.2 396.2,567.2 404.3,564.6 413.3,564.6 418.4,565.6 432.5,565.6 444.6,566.2 456.7,569.2 468.8,574.2 481.9,580.9" stroke="#1a1a7a"/>
</g>
<g text-anchor="middle">
<text x="19.3" y="661.6">Dez.10</text>
<text x="79.2" y="661.6">Dez.22</text>
<text x="133.5" y="661.6">2015</text>
<text x="180.8" y="661.6">Jan.11</text>
<text x="241.2" y="661.6">Jan.22</text>
<text x="289.1" y="661.6">Feb</text>
<text x="338.0" y="661.6">Feb.10</text>
<text x="398.2" y="661.6">Feb.22</text>
<text x="433.1" y="661.6">Mrz</text>
<text x="482.2" y="661.6">Mrz.10</text>
</g>
</svg></body></html>
